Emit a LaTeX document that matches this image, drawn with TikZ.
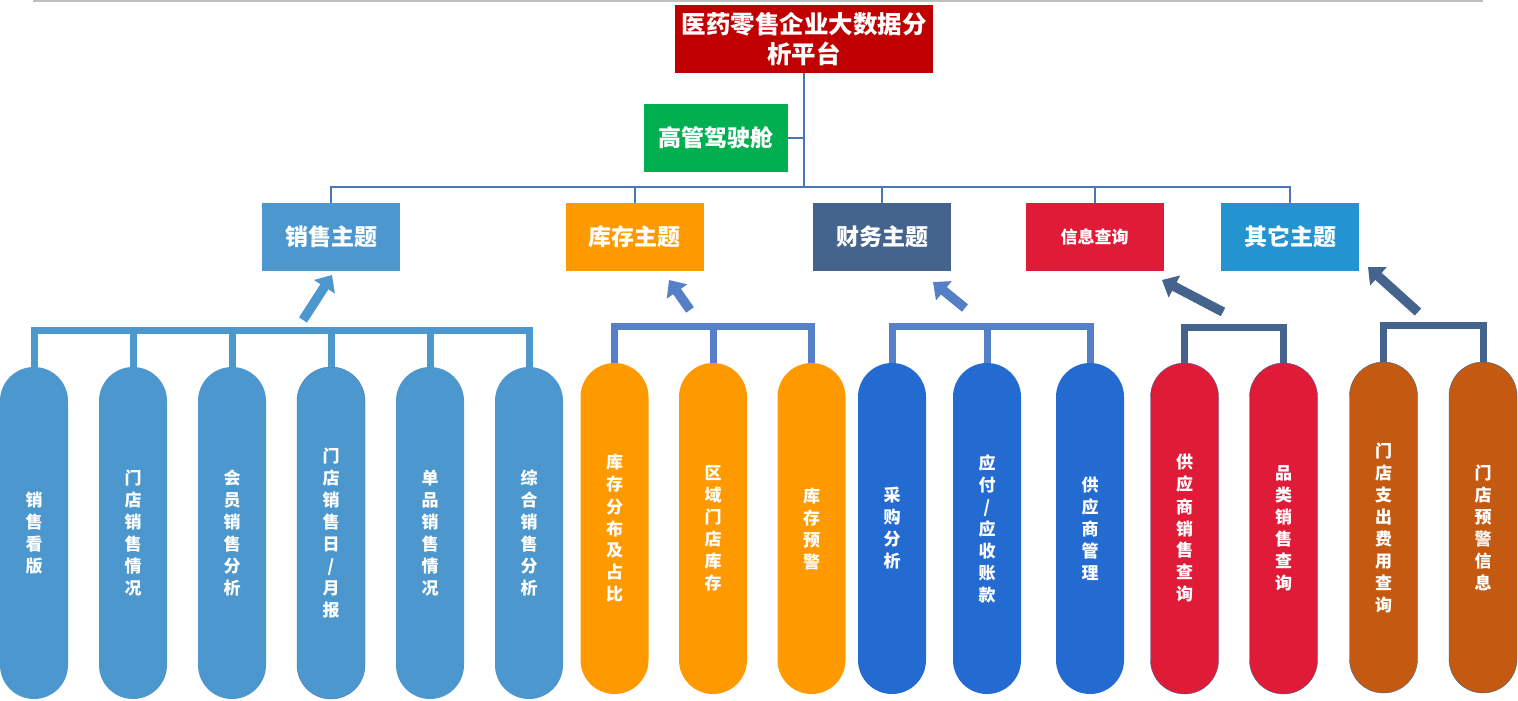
\documentclass[tikz,border=0pt]{standalone}
\usepackage{fontspec}
\setmainfont{Noto Sans CJK SC}
\usetikzlibrary{positioning,arrows.meta}

\definecolor{titlered}{HTML}{C00000}
\definecolor{cockpitgreen}{HTML}{00B050}
\definecolor{salesblue}{HTML}{4B97CE}
\definecolor{stockorange}{HTML}{FF9900}
\definecolor{finslate}{HTML}{45648D}
\definecolor{infored}{HTML}{DF1B37}
\definecolor{otherblue}{HTML}{2394D0}
\definecolor{busblue}{HTML}{5580C8}
\definecolor{finblue}{HTML}{236BD1}
\definecolor{otherbrown}{HTML}{C45A11}
\definecolor{treeblue}{HTML}{4A76B5}

\begin{document}
\begin{tikzpicture}[x=1pt,y=-1pt,
    topic/.style={minimum width=138pt,minimum height=68pt,inner sep=0pt,text=white,
      font=\bfseries\fontsize{23}{28}\selectfont},
    pill/.style={minimum width=68pt,minimum height=331pt,rounded corners=34pt,inner sep=0pt,
      outer sep=0pt,text=white,align=center,font=\bfseries\fontsize{17}{22}\selectfont},
    tree/.style={draw=treeblue,line width=2pt},
    bus/.style={line width=7pt},
    up/.style={line width=9.5pt,-{Triangle[width=24pt,length=14pt]}}]
  \useasboundingbox (0,0) rectangle (1518,701);
  \draw[black!25,line width=1.5pt] (33,1) -- (1483,1);

  % top
  \node [fill=titlered,minimum width=258pt,minimum height=68pt,inner sep=0pt,align=center,
    text=white,font=\bfseries\fontsize{24.5}{30}\selectfont] (root) at (804,39) {医药零售企业大数据分\\析平台};
  \node [topic,fill=cockpitgreen,minimum width=144pt] (cockpit) at (716,138) {高管驾驶舱};

  % topics
  \node [topic,fill=salesblue] (sales) at (331,237) {销售主题};
  \node [topic,fill=stockorange] (stock) at (634.5,237) {库存主题};
  \node [topic,fill=finslate] (fin) at (882,237) {财务主题};
  \node [topic,fill=infored,font=\bfseries\fontsize{17}{20}\selectfont] (info) at (1094.5,237) {信息查询};
  \node [topic,fill=otherblue] (other) at (1290,237) {其它主题};

  \draw[tree] (root.south) -- (root.south |- 0,187);
  \draw[tree] (cockpit.east) -- (cockpit.east -| root.south);
  \draw[tree] (sales.north) -- ++(0,-16) -| (other.north)
    (stock.north) -- ++(0,-16) (fin.north) -- ++(0,-16) (info.north) -- ++(0,-16);

  % sales
  \node [pill,fill=salesblue,minimum height=332pt] (s_1) at (34,533) {销\\售\\看\\版};
  \node [pill,fill=salesblue,minimum height=332pt] [right=31pt of s_1] (s_2) {门\\店\\销\\售\\情\\况};
  \node [pill,fill=salesblue,minimum height=332pt] [right=31pt of s_2] (s_3) {会\\员\\销\\售\\分\\析};
  \node [pill,fill=salesblue,draw=treeblue,minimum height=332pt] [right=31pt of s_3] (s_4) {门\\店\\销\\售\\日\\/\\月\\报};
  \node [pill,fill=salesblue,minimum height=332pt] [right=31pt of s_4] (s_5) {单\\品\\销\\售\\情\\况};
  \node [pill,fill=salesblue,minimum height=332pt] [right=31pt of s_5] (s_6) {综\\合\\销\\售\\分\\析};

  % stock
  \node [pill,fill=stockorange] (k_1) at (614.5,528.5) {库\\存\\分\\布\\及\\占\\比};
  \node [pill,fill=stockorange] [right=30.5pt of k_1] (k_2) {区\\域\\门\\店\\库\\存};
  \node [pill,fill=stockorange] [right=30.5pt of k_2] (k_3) {库\\存\\预\\警};

  % finance
  \node [pill,fill=finblue] (f_1) at (892,528.5) {采\\购\\分\\析};
  \node [pill,fill=finblue] [right=27pt of f_1] (f_2) {应\\付\\/\\应\\收\\账\\款};
  \node [pill,fill=finblue] [right=35pt of f_2] (f_3) {供\\应\\商\\管\\理};

  % info
  \node [pill,fill=infored,draw=finslate,thin] (i_1) at (1184.5,528.5) {供\\应\\商\\销\\售\\查\\询};
  \node [pill,fill=infored,draw=finslate,thin] [right=31pt of i_1] (i_2) {品\\类\\销\\售\\查\\询};

  % other
  \node [pill,fill=otherbrown,draw=finslate,thin] (o_1) at (1383.5,527.5) {门\\店\\支\\出\\费\\用\\查\\询};
  \node [pill,fill=otherbrown,draw=finslate,thin] [right=31.5pt of o_1] (o_2) {门\\店\\预\\警\\信\\息};

  % brackets
  \draw[bus,salesblue] (s_1.north) -- ++(0,-37) -| (s_6.north)
    (s_2.north) -- ++(0,-37) (s_3.north) -- ++(0,-37)
    (s_4.north) -- ++(0,-37) (s_5.north) -- ++(0,-37);
  \draw[bus,busblue] (k_1.north) -- ++(0,-37) -| (k_3.north) (k_2.north) -- ++(0,-37);
  \draw[bus,busblue] (f_1.north) -- ++(0,-37) -| (f_3.north) (f_2.north) -- ++(0,-37);
  \draw[bus,finslate] (i_1.north) -- ++(0,-36) -| (i_2.north);
  \draw[bus,finslate] (o_1.north) -- ++(0,-37) -| (o_2.north);

  % arrows
  \coordinate (sa) at (303,320);  \coordinate (sh) at (332,275);
  \coordinate (ka) at (690,310);  \coordinate (kh) at (669,280);
  \coordinate (fa) at (965,308);  \coordinate (fh) at (933,282);
  \coordinate (ia) at (1223,312); \coordinate (ih) at (1162,280);
  \coordinate (oa) at (1418,312); \coordinate (oh) at (1368,267);
  \draw[up,salesblue] (sa) -- (sh);
  \draw[up,busblue] (ka) -- (kh);
  \draw[up,busblue] (fa) -- (fh);
  \draw[up,finslate] (ia) -- (ih);
  \draw[up,finslate] (oa) -- (oh);
\end{tikzpicture}
\end{document}
